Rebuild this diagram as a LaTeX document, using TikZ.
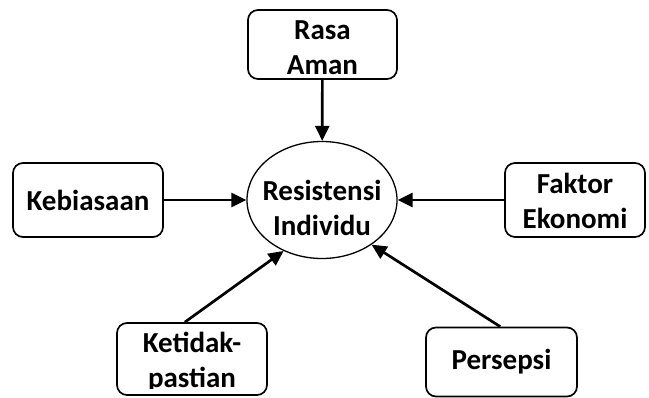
\documentclass[tikz,border=0pt]{standalone}
\usepackage{fontspec}
\setmainfont{Carlito}
\usetikzlibrary{arrows.meta,shapes.geometric}
\begin{document}
\begin{tikzpicture}[x=1pt,y=-1pt,
  lbl/.style={align=center, inner sep=0pt, font=\bfseries\fontsize{29}{35}\selectfont},
  box/.style={draw, line width=1.7pt, rounded corners=10pt, inner sep=0pt},
  arr/.style={line width=2.7pt, -{Triangle[length=15pt,width=14pt]}}]
\useasboundingbox (0,0) rectangle (649,397);
\node[box, minimum width=149pt, minimum height=69pt] (rasa) at (322.5,44.5) {};
\node[lbl] (rasatxt) at (322.5,48) {Rasa\\Aman};
\node[box, lbl, minimum width=150pt, minimum height=74pt] (keb) at (88,200) {Kebiasaan};
\node[box, minimum width=140pt, minimum height=74pt] (fak) at (575,200) {};
\node[lbl] (faktxt) at (575,201) {Faktor\\Ekonomi};
\node[box, minimum width=150pt, minimum height=72pt] (ket) at (192,359) {};
\node[box, lbl, minimum width=151pt, minimum height=69pt] (per) at (501.5,362) {Persepsi};
\node[draw, ellipse, line width=1.3pt, minimum width=150pt, minimum height=117pt, inner sep=0pt] (res) at (322,200) {};
\node[lbl] (restxt) at (322,208) {Resistensi\\Individu};
\begin{scope}
  \clip (100,300) rectangle (290,388.5);
  \node[lbl] (kettxt) at (192,362) {Ketidak-\\pastian};
\end{scope}
\draw[arr] (rasa) -- (res);
\draw[arr] (keb) -- (res);
\draw[arr] (fak) -- (res);
\draw[arr] (ket.101) -- (res.233);
\draw[arr] (per.92) -- (res.318);
\end{tikzpicture}
\end{document}
